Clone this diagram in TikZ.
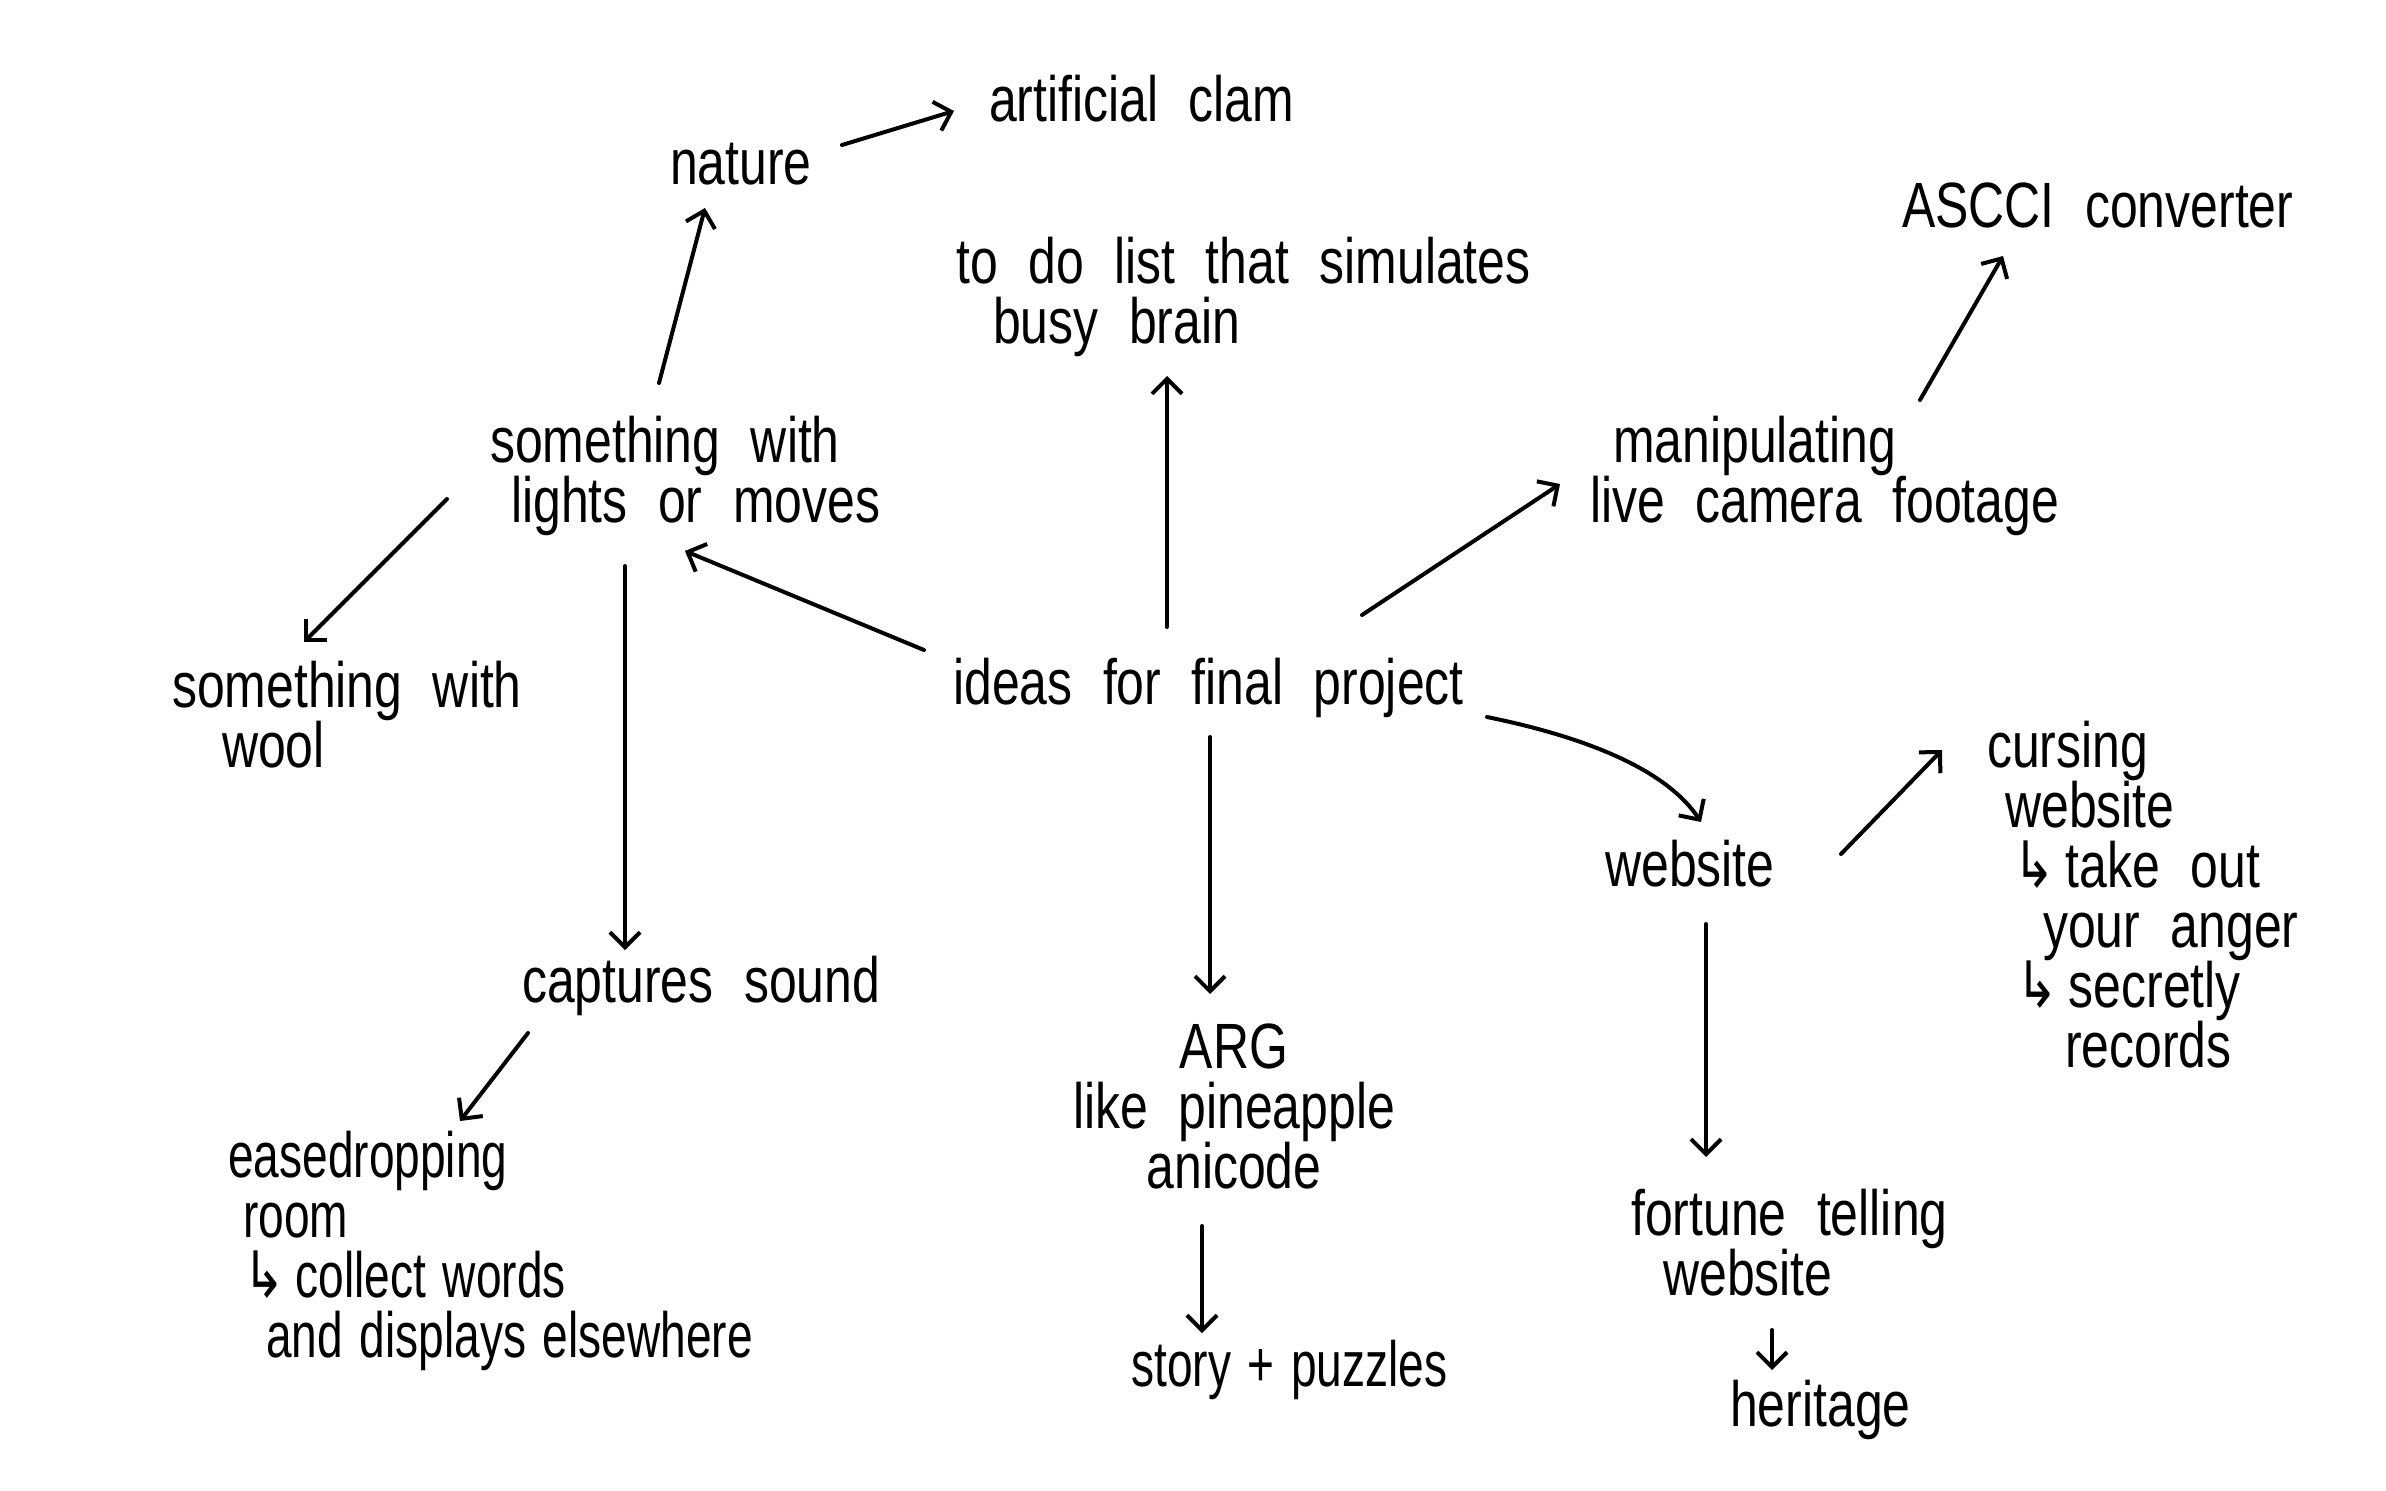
\documentclass[tikz,border=0pt]{standalone}
\usepackage{fontspec}
\setmainfont{Liberation Sans}[FakeStretch=0.78,WordSpace=2.2]
\newfontfamily\tightfont{Liberation Sans}[FakeStretch=0.72,WordSpace=1.3]
\newfontfamily\arrfont{DejaVu Sans}[FakeStretch=0.78]
\usetikzlibrary{arrows.meta,calc}
\newcommand{\hookarr}{{\arrfont ↳}\,}
\begin{document}
\begin{tikzpicture}[x=1pt,y=-1pt,
  idea/.style={inner sep=0pt, anchor=west, align=left, font=\fontsize{64}{60}\selectfont},
  tight/.style={font=\tightfont\fontsize{64}{60}\selectfont},
  conn/.style={line width=4pt, line cap=round, line join=round,
    -{Straight Barb[length=15pt,width=30pt,line width=4pt]}}]
\fill[white] (0,0) rectangle (2386,1491);
\useasboundingbox (0,0) rectangle (2386,1491);

\node[idea] (clam) at (989,99) {artificial clam};
\node[idea] (nature) at (670,164) {nature};
\node[idea] (todo) at (956,297) {to do list that simulates\\\hspace*{37pt}busy brain};
\node[idea] (ascii) at (1902,205) {ASCCI converter};
\node[idea] (manip) at (1590,476) {\hspace*{23pt}manipulating\\live camera footage};
\node[idea] (lights) at (490,476) {something with\\\hspace*{21pt}lights or moves};
\node[idea] (wool) at (172,715) {something with\\\hspace*{50pt}wool};
\node[idea] (ideas) at (953,688) {ideas for final project};
\node[idea] (website) at (1605,864) {website};
\node[idea] (cursing) at (1987,895) {cursing\\\hspace*{18pt}website\\\hspace*{26pt}\hookarr take out\\\hspace*{56pt}your anger\\\hspace*{29pt}\hookarr secretly\\\hspace*{78pt}records};
\node[idea] (captures) at (522,986) {captures sound};
\node[idea, tight] (eaves) at (228,1251) {easedropping\\\hspace*{15pt}room\\\hspace*{15pt}\hookarr collect words\\\hspace*{38pt}and displays elsewhere};
\node[idea, anchor=center, align=center] (arg) at (1234,1106) {ARG\\like pineapple\\anicode};
\node[idea, tight] (story) at (1131,1370) {story + puzzles};
\node[idea] (fortune) at (1631,1243) {fortune telling\\\hspace*{32pt}website};
\node[idea] (heritage) at (1730,1410) {heritage};

\draw[conn] ([shift={(172,-19)}]nature.west) -- ([shift={(-35,12)}]clam.west);
\draw[conn] ([shift={(214,-61)}]ideas.west) -- ([shift={(211,79)}]todo.west);
\draw[conn] ([shift={(330,-76)}]manip.west) -- ([shift={(101,51)}]ascii.west);
\draw[conn] ([shift={(409,-73)}]ideas.west) -- ([shift={(-30,8)}]manip.west);
\draw[conn] ([shift={(169,-93)}]lights.west) -- ([shift={(35,44)}]nature.west);
\draw[conn] ([shift={(-29,-38)}]ideas.west) -- ([shift={(195,75)}]lights.west);
\draw[conn] ([shift={(-43,23)}]lights.west) -- ([shift={(132,-73)}]wool.west);
\draw[conn] ([shift={(135,90)}]lights.west) -- ([shift={(103,-36)}]captures.west);
\draw[conn] ([shift={(257,49)}]ideas.west) -- ([shift={(-24,-112)}]arg.center);
\draw[conn] ([shift={(534,29)}]ideas.west) .. controls +(113,23) and +(-31,-47) .. ([shift={(96,-42)}]website.west);
\draw[conn] ([shift={(236,-10)}]website.west) -- ([shift={(-45,-145)}]cursing.west);
\draw[conn] ([shift={(101,60)}]website.west) -- ([shift={(75,-86)}]fortune.west);
\draw[conn] ([shift={(6,47)}]captures.west) -- ([shift={(232,-130)}]eaves.west);
\draw[conn] ([shift={(-32,120)}]arg.center) -- ([shift={(71,-37)}]story.west);
\draw[conn] ([shift={(141,87)}]fortune.west) -- ([shift={(42,-40)}]heritage.west);
\end{tikzpicture}
\end{document}
